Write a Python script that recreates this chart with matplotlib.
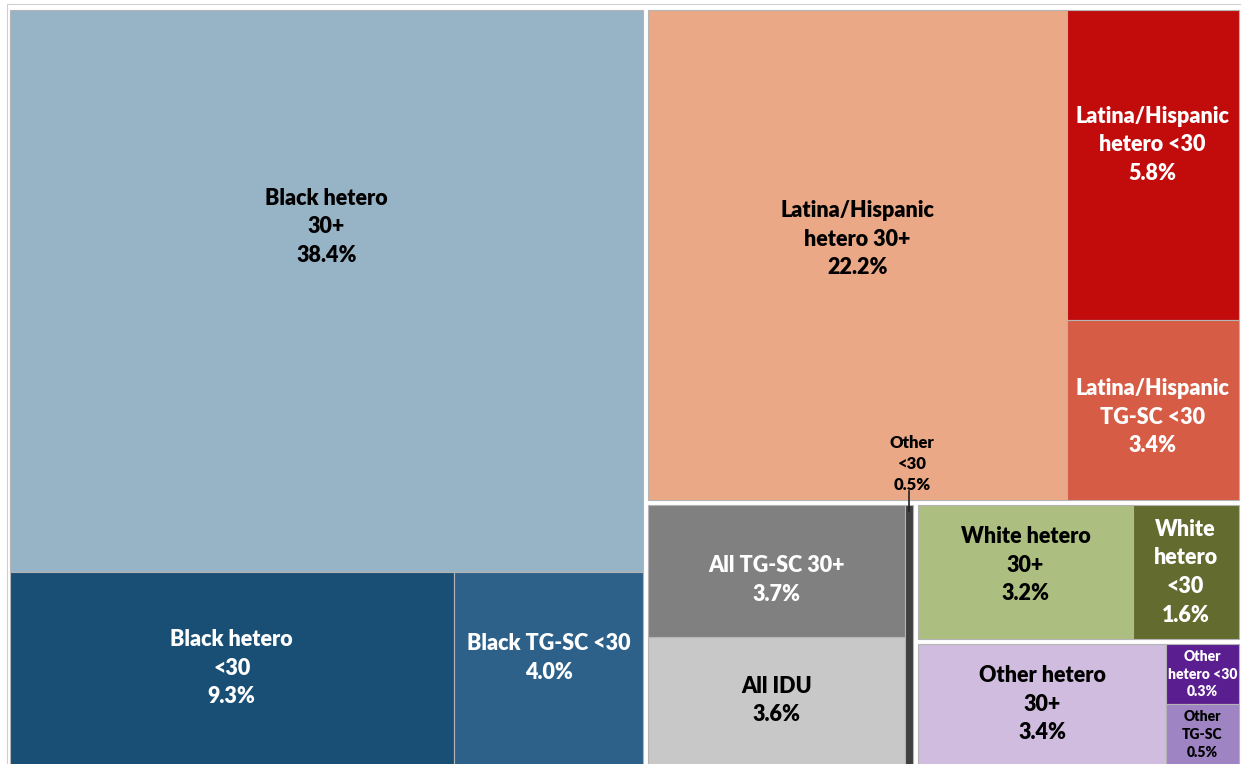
import matplotlib.pyplot as plt
from matplotlib.patches import Rectangle

# treemap leaves: label text, share shown in label, box size
names = [
    "Black hetero\n30+", "Black hetero\n<30", "Black TG-SC <30",
    "Latina/Hispanic\nhetero 30+", "Latina/Hispanic\nhetero <30", "Latina/Hispanic\nTG-SC <30",
    "All TG-SC 30+", "All IDU", "Other\n<30",
    "White hetero\n30+", "White\nhetero\n<30",
    "Other hetero\n30+", "Other\nhetero <30", "Other\nTG-SC",
]
pct = [38.4, 9.3, 4.0, 22.2, 5.8, 3.4, 3.7, 3.6, 0.5, 3.2, 1.6, 3.4, 0.3, 0.5]
area = [38.4, 9.3, 4.0, 22.2, 5.8, 3.4, 3.7, 3.6, 0.3, 3.2, 1.6, 3.35, 0.5, 0.5]
groups = ["Black"] * 3 + ["Latina"] * 3 + ["All"] * 3 + ["White"] * 2 + ["Other"] * 3

colors = ["#97b3c6", "#1a4f75", "#2d6189", "#eaa886", "#c20b0b", "#d65c45",
          "#808080", "#c8c8c8", "#404040", "#adbf80", "#636b2f",
          "#cfbcde", "#5b1e91", "#9e84c2"]
text_colors = ["black", "white", "white", "black", "white", "white",
               "white", "black", "black", "black", "white",
               "black", "white", "black"]

# slicing order of the treemap: "h" splits left-right, "v" splits top-bottom
tree = ("h", [
    ("v", [0, ("h", [1, 2])]),
    ("v", [
        ("h", [3, ("v", [4, 5])]),
        ("h", [("h", [("v", [6, 7]), 8]),
               ("v", [("h", [9, 10]), ("h", [11, ("v", [12, 13])])])]),
    ]),
])


def total(node):
    if isinstance(node, int):
        return area[node]
    return sum(total(k) for k in node[1])


def layout(node, x, y, w, h, rects):
    if isinstance(node, int):
        rects[node] = (x, y, w, h)
        return
    d, kids = node
    s = total(node)
    for k in kids:
        f = total(k) / s
        if d == "h":
            layout(k, x, y, w * f, h, rects)
            x += w * f
        else:
            layout(k, x, y, w, h * f, rects)
            y += h * f


plt.rcParams["font.family"] = ["Lato", "DejaVu Sans"]

fig = plt.figure(figsize=(12.41, 7.64), dpi=100)
ax = fig.add_axes([0, 0, 1, 1])
ax.set_xlim(0, 1241)
ax.set_ylim(764, 0)
ax.axis("off")

rects = {}
layout(tree, 7, 7.5, 1234, 759.5, rects)

gap = 2.5
gbox = {}
for i, g in enumerate(groups):
    x, y, w, h = rects[i]
    if g in gbox:
        a, b, c, d = gbox[g]
        gbox[g] = (min(a, x), min(b, y), max(c, x + w), max(d, y + h))
    else:
        gbox[g] = (x, y, x + w, y + h)

# outer frame of the chart area
ax.add_patch(Rectangle((7, 4), 1240, 770, fill=False, ec="#d0d0d0", lw=0.8))

label_dy = {0: -64, 2: -10, 3: -16, 4: -20, 5: 7, 6: 9, 9: -7}
small = {8: 12, 12: 10, 13: 10}

for i in range(len(names)):
    x, y, w, h = rects[i]
    gx0, gy0, gx1, gy1 = gbox[groups[i]]
    x0 = max(x, gx0 + gap)
    y0 = max(y, gy0 + gap)
    x1 = min(x + w, gx1 - gap)
    y1 = min(y + h, gy1 - gap)
    ax.add_patch(Rectangle((x0, y0), x1 - x0, y1 - y0, fc=colors[i],
                           ec="#b4b4b4", lw=0.8))
    txt = f"{names[i]}\n{pct[i]:.1f}%"
    fs = small.get(i, 15.5)
    if i == 8:
        cx = (x0 + x1) / 2
        ax.plot([cx, cx], [y0 - 14, y0 + 6], color="#202020", lw=1.2)
        ax.text(cx + 3, y0 - 41, txt, ha="center", va="center", fontsize=fs,
                fontweight="heavy", color=text_colors[i], linespacing=1.4)
        continue
    ax.text((x0 + x1) / 2, (y0 + y1) / 2 + label_dy.get(i, 0), txt,
            ha="center", va="center", fontsize=fs, fontweight="heavy",
            color=text_colors[i], linespacing=1.45)

fig.savefig("out.png", dpi=100)
